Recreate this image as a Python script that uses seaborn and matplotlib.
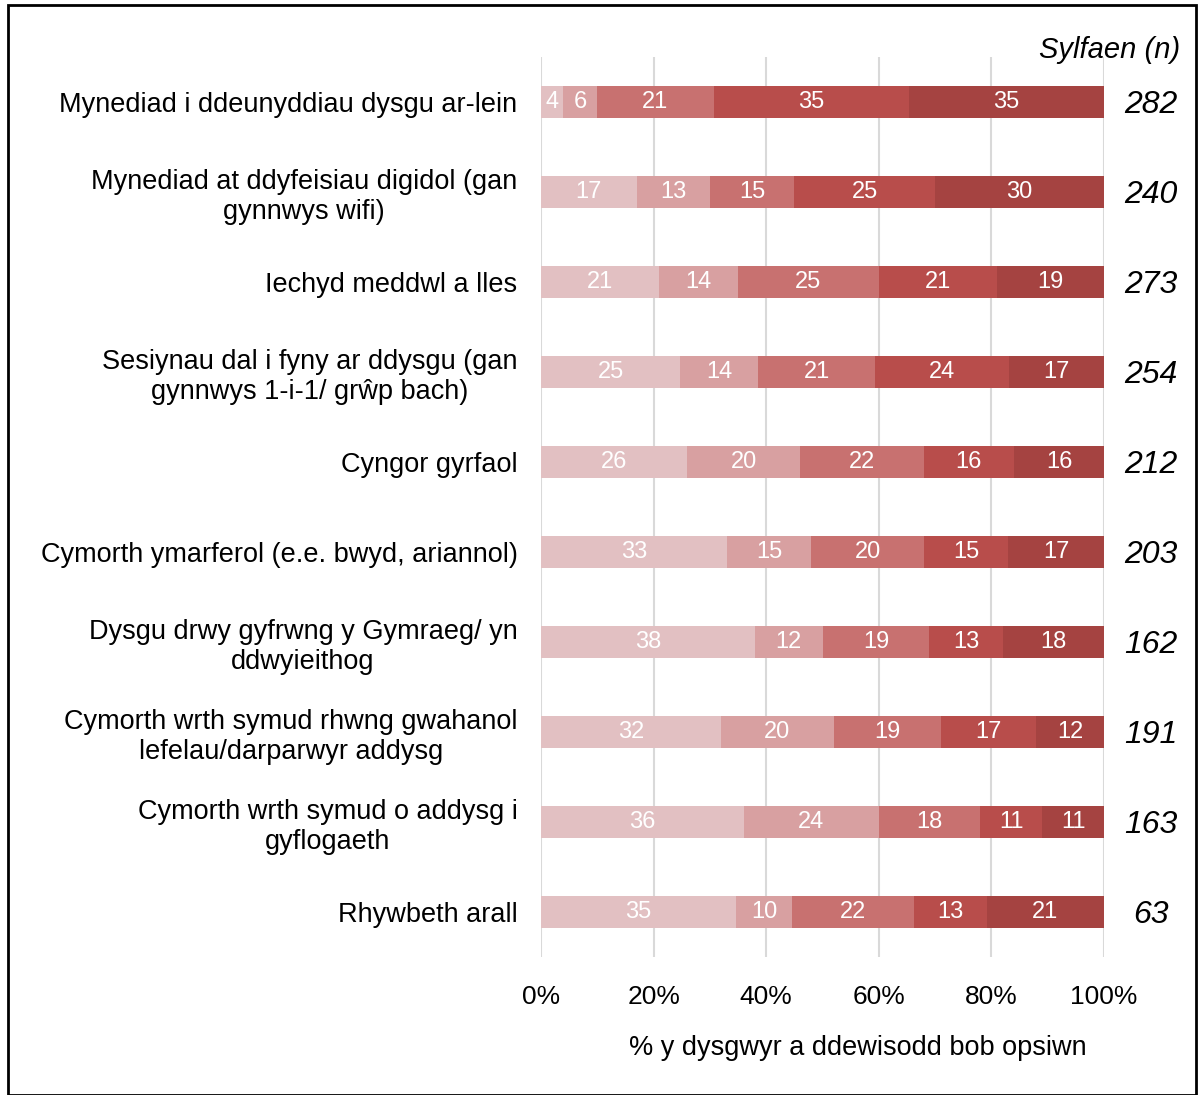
import numpy as np
import pandas as pd
import matplotlib
matplotlib.use("Agg")
import matplotlib.pyplot as plt
import seaborn as sns
from matplotlib.patches import Rectangle

categories = [
    "Mynediad i ddeunyddiau dysgu ar-lein",
    "Mynediad at ddyfeisiau digidol (gan\ngynnwys wifi)",
    "Iechyd meddwl a lles",
    "Sesiynau dal i fyny ar ddysgu (gan\ngynnwys 1-i-1/ grŵp bach)",
    "Cyngor gyrfaol",
    "Cymorth ymarferol (e.e. bwyd, ariannol)",
    "Dysgu drwy gyfrwng y Gymraeg/ yn\nddwyieithog",
    "Cymorth wrth symud rhwng gwahanol\nlefelau/darparwyr addysg",
    "Cymorth wrth symud o addysg i\ngyflogaeth",
    "Rhywbeth arall",
]
level1 = [4, 17, 21, 25, 26, 33, 38, 32, 36, 35]
level2 = [6, 13, 14, 14, 20, 15, 12, 20, 24, 10]
level3 = [21, 15, 25, 21, 22, 20, 19, 19, 18, 22]
level4 = [35, 25, 21, 24, 16, 15, 13, 17, 11, 13]
level5 = [35, 30, 19, 17, 16, 17, 18, 12, 11, 21]
base_n = [282, 240, 273, 254, 212, 203, 162, 191, 163, 63]

colors = ["#E2C0C2", "#D8A0A1", "#C87170", "#B84D4B", "#A54341"]

sns.set_theme(style="white")
plt.rcParams["font.family"] = ["Liberation Sans", "DejaVu Sans"]
plt.rcParams["text.color"] = "black"
plt.rcParams["xtick.color"] = "black"
plt.rcParams["ytick.color"] = "black"

vals = np.array([level1, level2, level3, level4, level5], dtype=float)
# 100% stacked: scale each row to its total
pct = vals / vals.sum(axis=0) * 100
cum = np.cumsum(pct, axis=0)

fig = plt.figure(figsize=(12, 10.95), dpi=100)
ax = fig.add_axes([541 / 1200, 1 - 957 / 1095, 563 / 1200, 900 / 1095])

for x in range(0, 101, 20):
    ax.axvline(x, color="#D9D9D9", lw=1.5, zorder=0)

# draw cumulative layers from the top down so each shorter one covers the longer
for k in range(4, -1, -1):
    df = pd.DataFrame({"cat": categories, "val": cum[k]})
    sns.barplot(data=df, x="val", y="cat", orient="h", color=colors[k],
                width=0.36, saturation=1, linewidth=0, ax=ax, zorder=2)

for k in range(5):
    for i in range(len(categories)):
        ax.text(cum[k, i] - pct[k, i] / 2, i, f"{int(vals[k, i])}",
                ha="center", va="center", color="white", fontsize=17, zorder=3)

for i, n in enumerate(base_n):
    ax.text(108.3, i + 0.03, str(n), ha="center", va="center", fontsize=23,
            style="italic", color="black", clip_on=False)

ax.set_xlim(0, 100)
ax.set_ylim(9.5, -0.5)
ax.set_xticks(range(0, 101, 20))
ax.set_xticklabels([f"{x}%" for x in range(0, 101, 20)], fontsize=19)
ax.tick_params(axis="x", length=0, pad=20)
ax.tick_params(axis="y", length=0, pad=17, labelsize=19.5)
for lbl in ax.get_yticklabels():
    lbl.set_linespacing(1.2)
    lbl.set_multialignment("center")
ax.set_xlabel("")
ax.set_ylabel("")
sns.despine(ax=ax, left=True, bottom=True)

fig.text(858 / 1200, 1 - 1048 / 1095, "% y dysgwyr a ddewisodd bob opsiwn",
         ha="center", va="center", fontsize=19.5)
fig.text(1180 / 1200, 1 - 50 / 1095, "Sylfaen (n)", ha="right", va="center",
         fontsize=21, style="italic")

fig.patches.append(Rectangle((8 / 1200, 0), 1188 / 1200, 1 - 5 / 1095,
                             transform=fig.transFigure, fill=False,
                             edgecolor="black", lw=2))

fig.savefig("out.png", dpi=100)
